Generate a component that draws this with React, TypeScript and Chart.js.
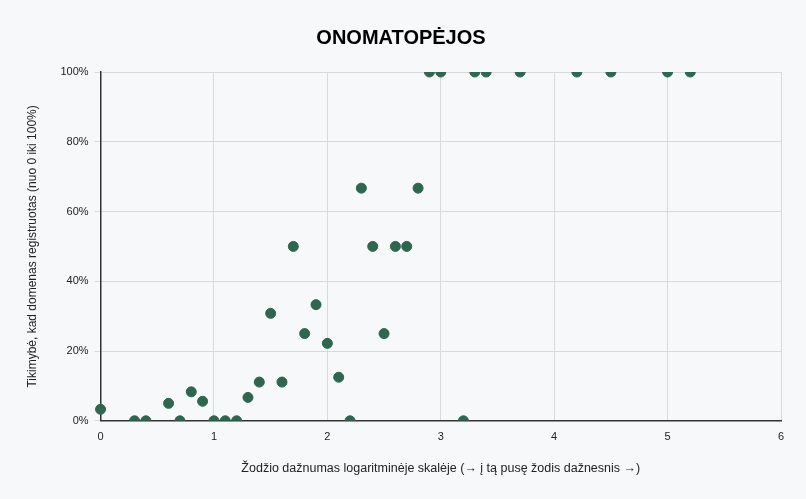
import { useEffect, useRef } from 'react';
import { Chart, registerables } from 'chart.js';

Chart.register(...registerables);

const title = 'ONOMATOPĖJOS';
const xTitle = 'Žodžio dažnumas logaritminėje skalėje (→ į tą pusę žodis dažnesnis →)';
const yTitle = 'Tikimybė, kad domenas registruotas (nuo 0 iki 100%)';

// word frequency (log scale)
const frequency = [
  0, 0.3, 0.4, 0.6, 0.7, 0.8, 0.9, 1.0, 1.1, 1.2, 1.3, 1.4, 1.5, 1.6, 1.7, 1.8, 1.9, 2.0,
  2.1, 2.2, 2.3, 2.4, 2.5, 2.6, 2.7, 2.8, 2.9, 3.0, 3.2, 3.3, 3.4, 3.7, 4.2, 4.5, 5.0, 5.2,
];
// probability that the domain is registered, %
const probability = [
  3.3, 0, 0, 5, 0, 8.3, 5.6, 0, 0, 0, 6.7, 11.1, 30.8, 11.1, 50, 25, 33.3, 22.2,
  12.5, 0, 66.7, 50, 25, 50, 50, 66.7, 100, 100, 0, 100, 100, 100, 100, 100, 100, 100,
];

const xTicks = [0, 1, 2, 3, 4, 5, 6];
const yTicks = [0, 20, 40, 60, 80, 100];

export default function App() {
  const chartRef = useRef<HTMLCanvasElement>(null);

  useEffect(() => {
    if (!chartRef.current) return;
    document.body.style.margin = '0';
    Chart.defaults.font.family = '"Liberation Sans", Arial, sans-serif';
    Chart.defaults.color = '#222';

    const chart = new Chart(chartRef.current, {
      type: 'scatter',
      data: {
        datasets: [{
          data: frequency.map((x, i) => ({ x, y: probability[i] })),
          backgroundColor: '#2f6650',
          borderColor: '#2f6650',
          pointRadius: 5,
          pointHoverRadius: 6,
          clip: { left: false, right: false, top: 0, bottom: 0 },
        }],
      },
      options: {
        animation: false,
        responsive: false,
        layout: { padding: { left: 21, right: 25, top: 26, bottom: 19 } },
        plugins: {
          legend: { display: false },
          tooltip: { enabled: false },
          title: {
            display: true,
            text: title,
            color: '#000',
            font: { size: 20, weight: 'bold' },
            padding: { top: 0, bottom: 22 },
          },
        },
        scales: {
          x: {
            type: 'linear',
            min: xTicks[0],
            max: xTicks[xTicks.length - 1],
            afterBuildTicks: (axis) => { axis.ticks = xTicks.map(v => ({ value: v })); },
            grid: { color: '#d9d9d9', drawTicks: false },
            border: { color: '#333', width: 1.5 },
            ticks: { font: { size: 11 }, padding: 10, color: '#222' },
            title: {
              display: true,
              text: xTitle,
              font: { size: 12.5 },
              color: '#222',
              padding: { top: 7 },
            },
          },
          y: {
            type: 'linear',
            min: yTicks[0],
            max: yTicks[yTicks.length - 1],
            afterBuildTicks: (axis) => { axis.ticks = yTicks.map(v => ({ value: v })); },
            grid: { color: '#d9d9d9', drawTicks: true, tickLength: 6 },
            border: { color: '#333', width: 1.5 },
            ticks: {
              font: { size: 11 },
              padding: 6,
              color: '#222',
              callback: (v) => `${v}%`,
            },
            title: {
              display: true,
              text: yTitle,
              font: { size: 12 },
              color: '#222',
              padding: { bottom: 15 },
            },
          },
        },
      },
      plugins: [{
        id: 'bg',
        beforeDraw: (c) => {
          const ctx = c.ctx;
          ctx.save();
          ctx.fillStyle = '#f7f8fa';
          ctx.fillRect(0, 0, c.width, c.height);
          ctx.restore();
        },
      }],
    });

    return () => {
      chart.destroy();
    };
  }, []);

  return (
    <div style={{ width: 806, height: 499, background: '#f7f8fa' }}>
      <canvas ref={chartRef} width={806} height={499} />
    </div>
  );
}
